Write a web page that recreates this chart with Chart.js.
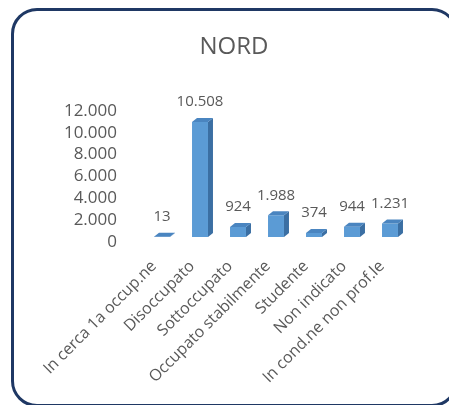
<!DOCTYPE html>
<html>
<head>
<meta charset="utf-8">
<script src="https://cdn.jsdelivr.net/npm/chart.js@4/dist/chart.umd.min.js"></script>
<style>
  body { margin: 0; background: #fff; }
  #wrap { position: relative; width: 449px; height: 405px; overflow: hidden; }
  #chart { position: absolute; left: 0; top: 0; }
  #frame {
    position: absolute; left: 11px; top: 8px; width: 441px; height: 393px;
    border: 3px solid #1f3864; border-radius: 26px; pointer-events: none;
  }
</style>
</head>
<body>
<div id="wrap">
  <canvas id="chart" width="449" height="405"></canvas>
  <div id="frame"></div>
</div>
<script>
const categories = [
  "In cerca 1a occup.ne",
  "Disoccupato",
  "Sottoccupato",
  "Occupato stabilmente",
  "Studente",
  "Non indicato",
  "In cond.ne non prof.le"
];
const values = [13, 10508, 924, 1988, 374, 944, 1231];
const yTicks = [0, 2000, 4000, 6000, 8000, 10000, 12000];

const grey = "#595959";
const font = "'Open Sans', 'Liberation Sans', sans-serif";

// formato italiano: 10.508
function fmt(v) {
  return String(v).replace(/\B(?=(\d{3})+(?!\d))/g, ".");
}

// facce laterali e superiori per l'effetto 3D + etichette dei valori
const bars3d = {
  id: "bars3d",
  afterDatasetsDraw(chart) {
    const ctx = chart.ctx;
    const meta = chart.getDatasetMeta(0);
    const d = 5, dy = 4;
    ctx.save();
    meta.data.forEach((bar, i) => {
      const l = bar.x - bar.width / 2, r = bar.x + bar.width / 2;
      const top = bar.y, base = bar.base;
      // lato
      ctx.fillStyle = "#3b6fa3";
      ctx.beginPath();
      ctx.moveTo(r, top);
      ctx.lineTo(r + d, top - dy);
      ctx.lineTo(r + d, base - dy);
      ctx.lineTo(r, base);
      ctx.closePath();
      ctx.fill();
      // sopra
      ctx.fillStyle = "#4a85c0";
      ctx.beginPath();
      ctx.moveTo(l, top);
      ctx.lineTo(l + d, top - dy);
      ctx.lineTo(r + d, top - dy);
      ctx.lineTo(r, top);
      ctx.closePath();
      ctx.fill();
      // valore
      ctx.fillStyle = grey;
      ctx.font = "15px " + font;
      ctx.textAlign = "center";
      ctx.textBaseline = "middle";
      ctx.fillText(fmt(values[i]), bar.x, top - 20);
    });
    ctx.restore();
  }
};

new Chart(document.getElementById("chart"), {
  type: "bar",
  data: {
    labels: categories,
    datasets: [{
      data: values,
      backgroundColor: "#5b9bd5",
      barPercentage: 0.42,
      categoryPercentage: 1
    }]
  },
  options: {
    responsive: false,
    animation: false,
    layout: { padding: { left: 59, right: 40, top: 0, bottom: 0 } },
    plugins: {
      legend: { display: false },
      tooltip: { enabled: false },
      title: {
        display: true,
        text: "NORD",
        color: grey,
        font: { family: font, size: 24, weight: "normal" },
        padding: { top: 33, bottom: 44 }
      }
    },
    scales: {
      x: {
        grid: { display: false, drawTicks: false },
        border: { display: false },
        ticks: {
          color: grey,
          font: { family: font, size: 16 },
          minRotation: 45,
          maxRotation: 45,
          autoSkip: false,
          padding: 20,
          labelOffset: -8
        },
        afterFit(scale) { scale.height = 168; }
      },
      y: {
        min: 0,
        max: 12000,
        afterBuildTicks(scale) { scale.ticks = yTicks.map(v => ({ value: v })); },
        grid: { display: false, drawTicks: false },
        border: { display: false },
        ticks: {
          color: grey,
          font: { family: font, size: 17 },
          padding: 26,
          labelOffset: 5,
          autoSkip: false,
          callback: v => fmt(v)
        },
        afterFit(scale) { scale.width = 84; }
      }
    }
  },
  plugins: [bars3d]
});
</script>
</body>
</html>
